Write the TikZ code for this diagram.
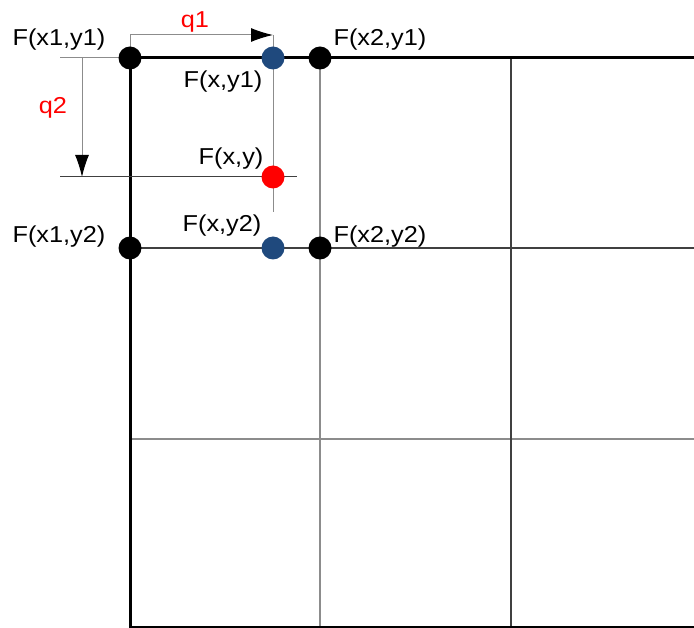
\documentclass[tikz,border=0pt]{standalone}
\usepackage{fontspec}
\setmainfont[FakeStretch=1.1]{Liberation Sans}
\usetikzlibrary{arrows.meta}
\definecolor{ptblue}{RGB}{31,73,125}

\begin{document}
\begin{tikzpicture}[
x=1pt,y=-1pt,
dot/.style={draw=none,shape=circle,minimum size=23pt,inner sep=0,fill=black
  },
bluedot/.style={dot,fill=ptblue},
reddot/.style={dot,fill=red},
lbl/.style={font=\fontsize{23}{26}\selectfont,inner sep=0},
qlbl/.style={lbl,text=red},
gridline/.style={draw=black!45,line width=1.4pt},
darkline/.style={draw=black!75,line width=1.2pt},
helpline/.style={draw=black!45,line width=1pt},
edgeline/.style={line width=3pt},
>={Latex[length=22pt,width=14pt,black]}]

\useasboundingbox (0,0) rectangle (694,628);

% grid
\draw[darkline] (130,248) -- (694,248);
\draw[gridline] (130,439) -- (694,439);
\draw[gridline] (320,58) -- (320,627);
\draw[darkline] (511,58) -- (511,627);
\draw[line width=1.6pt] (130,627) -- (694,627);
\draw[edgeline] (694,58) -- (130,58) -- (130,628);

% help lines for q1 and q2
\coordinate (q1a) at (130,35);
\coordinate (q1b) at (273,35);
\coordinate (xlow) at (273,212);
\coordinate (q2a) at (82,58);
\coordinate (q2b) at (82,177);
\coordinate (y1left) at (60,58);
\coordinate (yleft) at (60,177);
\coordinate (yright) at (297,177);

\draw[helpline] (130,58) -- (q1a);
\draw[helpline,->] (q1a) -- (q1b);
\draw[helpline] (q1b) -- (xlow);
\draw[helpline] (y1left) -- (130,58);
\draw[helpline,->] (q2a) -- (q2b);
\draw[darkline,line width=1pt] (yleft) -- (yright);

% points
\node[dot] (p11) at (130,58) {};
\node[dot] (p21) at (320,58) {};
\node[dot] (p12) at (130,248) {};
\node[dot] (p22) at (320,248) {};
\node[bluedot] (px1) at (273,58) {};
\node[bluedot] (px2) at (273,248) {};
\node[reddot] (pxy) at (273,177) {};

% labels
\node[lbl] (l11) at (59,40) {F(x1,y1)};
\node[lbl] (l21) at (380,40) {F(x2,y1)};
\node[lbl] (l12) at (59,237) {F(x1,y2)};
\node[lbl] (l22) at (380,237) {F(x2,y2)};
\node[lbl] (lx1) at (223,82) {F(x,y1)};
\node[lbl] (lxy) at (231,159) {F(x,y)};
\node[lbl] (lx2) at (222,226) {F(x,y2)};
\node[qlbl] (lq1) at (195,22) {q1};
\node[qlbl] (lq2) at (53,108) {q2};

\end{tikzpicture}
\end{document}
